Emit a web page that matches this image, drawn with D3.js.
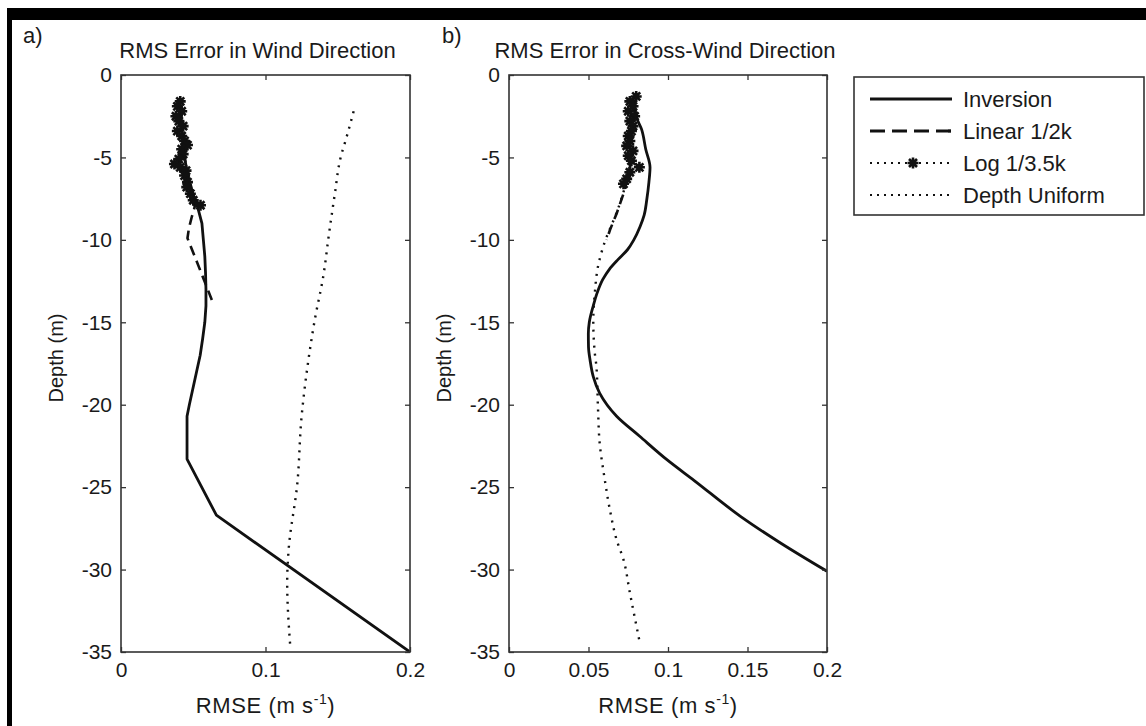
<!DOCTYPE html>
<html>
<head>
<meta charset="utf-8">
<script src="https://cdn.jsdelivr.net/npm/d3@7"></script>
<style>
  body { margin: 0; background: #fff; }
  svg { display: block; }
  text { font-family: "Liberation Sans", Arial, sans-serif; fill: #1a1a1a; }
  .axis .domain { display: none; }
  .axis line { stroke: #333; stroke-width: 1.3; }
  .axis text { font-size: 21px; fill: #1a1a1a; font-family: "Liberation Sans", Arial, sans-serif; }
</style>
</head>
<body>
<svg width="1146" height="726"></svg>
<script>
// ---- data (depth in m, RMSE in m/s) ----
var yTicks = [0, -5, -10, -15, -20, -25, -30, -35];
var xTicksA = [0, 0.1, 0.2];
var xTicksB = [0, 0.05, 0.1, 0.15, 0.2];

// panel a: wind direction
var invDepthA = [-1.8, -3, -4, -5, -6, -7, -8, -9, -10, -11, -12, -13, -14, -15, -16, -17, -18, -19, -20, -20.7, -23.3, -26.7, -35];
var invA      = [0.041, 0.042, 0.043, 0.044, 0.046, 0.049, 0.053, 0.056, 0.057, 0.058, 0.0585, 0.0588, 0.0588, 0.058, 0.0565, 0.0548, 0.0523, 0.0498, 0.0473, 0.0457, 0.0457, 0.066, 0.2];

var linDepthA = [-1.8, -3, -4, -5, -6, -7, -8, -8.6, -9.3, -9.9, -11, -12, -13, -13.9];
var linA      = [0.041, 0.042, 0.043, 0.044, 0.046, 0.049, 0.051, 0.049, 0.047, 0.046, 0.051, 0.0555, 0.060, 0.064];

var logDepthA = [-1.6, -1.9, -2.2, -2.5, -2.8, -3.1, -3.4, -3.7, -4.0, -4.25, -4.5, -4.8, -5.1, -5.4, -5.6, -5.8, -6.1, -6.5, -6.8, -7.2, -7.6, -7.9];
var logA      = [0.041, 0.039, 0.042, 0.038, 0.040, 0.043, 0.039, 0.042, 0.044, 0.046, 0.042, 0.043, 0.040, 0.037, 0.041, 0.045, 0.044, 0.046, 0.0455, 0.048, 0.050, 0.055];

var uniDepthA = [-2.2, -3.8, -5, -7.2, -9.6, -12.2, -14.9, -17.1, -20.7, -24.8, -28.8, -30.8, -34.5];
var uniA      = [0.161, 0.156, 0.152, 0.148, 0.144, 0.140, 0.134, 0.130, 0.125, 0.122, 0.116, 0.115, 0.117];

// panel b: cross-wind direction
var invDepthB = [-1.5, -2.5, -3.3, -4.5, -5.6, -6.5, -7.6, -8.5, -9.2, -10, -10.6, -11.2, -11.8, -12.4, -13.2, -14, -15, -15.7, -16.5, -17.3, -18.3, -19.3, -20.7, -21.9, -23.35, -24.6, -26.8, -28.4, -30.1];
var invB      = [0.079, 0.080, 0.0834, 0.086, 0.0887, 0.088, 0.0866, 0.085, 0.0824, 0.0785, 0.0745, 0.0685, 0.063, 0.059, 0.0555, 0.053, 0.0505, 0.0499, 0.050, 0.051, 0.053, 0.057, 0.0677, 0.082, 0.0995, 0.1165, 0.146, 0.171, 0.2];

var linDepthB = [-1.5, -2.5, -3.5, -4.5, -5.8, -7.2, -8.4, -9.4, -10];
var linB      = [0.079, 0.078, 0.077, 0.077, 0.076, 0.072, 0.0677, 0.0635, 0.0614];

var logDepthB = [-1.3, -1.6, -1.9, -2.2, -2.5, -2.8, -3.1, -3.4, -3.7, -4.0, -4.3, -4.6, -4.9, -5.2, -5.6, -5.9, -6.3, -6.6];
var logB      = [0.080, 0.076, 0.078, 0.075, 0.079, 0.076, 0.078, 0.077, 0.075, 0.076, 0.074, 0.078, 0.075, 0.077, 0.082, 0.076, 0.074, 0.072];

var uniDepthB = [-2.2, -4, -6, -8, -10.4, -11.6, -13.2, -14.9, -16.9, -17.7, -20.3, -22.3, -24.4, -26.4, -28.2, -29.4, -31.4, -34.5];
var uniB      = [0.079, 0.078, 0.075, 0.069, 0.0593, 0.056, 0.054, 0.053, 0.054, 0.055, 0.056, 0.057, 0.060, 0.0635, 0.0677, 0.072, 0.076, 0.0824];

var legendNames = ["Inversion", "Linear 1/2k", "Log 1/3.5k", "Depth Uniform"];

// ---- drawing ----
var svg = d3.select("svg");
svg.append("rect").attr("width", 1146).attr("height", 726).attr("fill", "#fff");
// black frame pieces
svg.append("rect").attr("x", 7).attr("y", 8).attr("width", 1139).attr("height", 12).attr("fill", "#000");
svg.append("rect").attr("x", 7).attr("y", 8).attr("width", 5).attr("height", 718).attr("fill", "#000");

function zip(d, v) { return d.map(function(dd, i) { return {d: dd, v: v[i]}; }); }

var starPath = "M-5.5,0L5.5,0M0,-5.5L0,5.5M-4,-4L4,4M-4,4L4,-4";

function panel(opt) {
  var x = d3.scaleLinear().domain([0, 0.2]).range([opt.left, opt.right]);
  var y = d3.scaleLinear().domain([-35, 0]).range([652, 75]);
  var g = svg.append("g");

  var clipId = "clip" + opt.tag;
  svg.append("clipPath").attr("id", clipId).append("rect")
    .attr("x", opt.left).attr("y", 75).attr("width", opt.right - opt.left).attr("height", 577);

  var plot = g.append("g").attr("clip-path", "url(#" + clipId + ")");

  var line = d3.line().x(function(p) { return x(p.v); }).y(function(p) { return y(p.d); });
  var smooth = d3.line().x(function(p) { return x(p.v); }).y(function(p) { return y(p.d); }).curve(d3.curveMonotoneY);

  plot.append("path").datum(zip(opt.uniD, opt.uni)).attr("d", smooth)
    .attr("fill", "none").attr("stroke", "#111").attr("stroke-width", 2.4).attr("stroke-dasharray", "2,6");
  plot.append("path").datum(zip(opt.linD, opt.lin)).attr("d", line)
    .attr("fill", "none").attr("stroke", "#111").attr("stroke-width", 2.6).attr("stroke-dasharray", "10,6");
  plot.append("path").datum(zip(opt.invD, opt.inv)).attr("d", opt.smoothInv ? smooth : line)
    .attr("fill", "none").attr("stroke", "#111").attr("stroke-width", 2.8).attr("stroke-linejoin", "round");
  plot.append("path").datum(zip(opt.logD, opt.log)).attr("d", line)
    .attr("fill", "none").attr("stroke", "#111").attr("stroke-width", 2.2).attr("stroke-dasharray", "2,4");
  plot.selectAll("path.star").data(zip(opt.logD, opt.log)).enter().append("path")
    .attr("class", "star")
    .attr("transform", function(p) { return "translate(" + x(p.v) + "," + y(p.d) + ")"; })
    .attr("d", starPath).attr("stroke", "#111").attr("stroke-width", 2.6).attr("fill", "none");

  // axes, ticks pointing inwards
  var fmt = function(d) { return String(d); };
  g.append("g").attr("class", "axis").attr("transform", "translate(" + opt.left + ",0)")
    .call(d3.axisLeft(y).tickValues(yTicks).tickFormat(fmt).tickSizeInner(-5).tickSizeOuter(0).tickPadding(9));
  g.append("g").attr("class", "axis").attr("transform", "translate(" + opt.right + ",0)")
    .call(d3.axisRight(y).tickValues(yTicks).tickFormat("").tickSizeInner(-5).tickSizeOuter(0));
  g.append("g").attr("class", "axis").attr("transform", "translate(0,652)")
    .call(d3.axisBottom(x).tickValues(opt.xTicks).tickFormat(fmt).tickSizeInner(-5).tickSizeOuter(0).tickPadding(10));
  g.append("g").attr("class", "axis").attr("transform", "translate(0,75)")
    .call(d3.axisTop(x).tickValues(opt.xTicks).tickFormat("").tickSizeInner(-5).tickSizeOuter(0));

  g.append("rect").attr("x", opt.left).attr("y", 75).attr("width", opt.right - opt.left).attr("height", 577)
    .attr("fill", "none").attr("stroke", "#333").attr("stroke-width", 1.6);

  var cx = (opt.left + opt.right) / 2;
  g.append("text").attr("x", cx + opt.titleDx).attr("y", 58).attr("text-anchor", "middle")
    .style("font-size", "22px").text(opt.title);
  g.append("text").attr("x", opt.tagX).attr("y", 43).style("font-size", "22px").text(opt.tag + ")");

  var xl = g.append("text").attr("x", cx).attr("y", 713).attr("text-anchor", "middle")
    .style("font-size", "22px").style("letter-spacing", "0.6px");
  xl.append("tspan").text("RMSE (m s");
  xl.append("tspan").attr("dy", -9).style("font-size", "14px").text("-1");
  xl.append("tspan").attr("dy", 9).text(")");

  g.append("text").attr("transform", "translate(" + opt.ylabX + ",358) rotate(-90)")
    .attr("text-anchor", "middle").style("font-size", "20px").text("Depth (m)");
}

panel({
  tag: "a", tagX: 23, left: 121, right: 410, ylabX: 63, xTicks: xTicksA, titleDx: -8,
  title: "RMS Error in Wind Direction",
  invD: invDepthA, inv: invA, linD: linDepthA, lin: linA,
  logD: logDepthA, log: logA, uniD: uniDepthA, uni: uniA, smoothInv: false
});
panel({
  tag: "b", tagX: 442, left: 509, right: 827, ylabX: 451, xTicks: xTicksB, titleDx: -3,
  title: "RMS Error in Cross-Wind Direction",
  invD: invDepthB, inv: invB, linD: linDepthB, lin: linB,
  logD: logDepthB, log: logB, uniD: uniDepthB, uni: uniB, smoothInv: true
});

// legend
var lg = svg.append("g");
lg.append("rect").attr("x", 854).attr("y", 77).attr("width", 290).attr("height", 138)
  .attr("fill", "#fff").attr("stroke", "#333").attr("stroke-width", 1.6);
var styles = [
  {w: 2.8, dash: null},
  {w: 2.8, dash: "15,7"},
  {w: 2.2, dash: "2,5"},
  {w: 2.2, dash: "2,5"}
];
var rows = lg.selectAll("g.row").data(legendNames).enter().append("g")
  .attr("class", "row")
  .attr("transform", function(d, i) { return "translate(0," + (99 + i * 32) + ")"; });
rows.append("line").attr("x1", 870).attr("x2", 952).attr("y1", 0).attr("y2", 0)
  .attr("stroke", "#111")
  .attr("stroke-width", function(d, i) { return styles[i].w; })
  .attr("stroke-dasharray", function(d, i) { return styles[i].dash; });
rows.filter(function(d, i) { return i === 1; }).append("rect")
  .attr("x", 948).attr("y", -1.4).attr("width", 3).attr("height", 2.8).attr("fill", "#111");
rows.filter(function(d, i) { return i === 2; }).append("path")
  .attr("transform", "translate(913,0)").attr("d", starPath)
  .attr("stroke", "#111").attr("stroke-width", 2.6).attr("fill", "none");
rows.append("text").attr("x", 963).attr("dy", "0.35em").style("font-size", "22px").text(function(d) { return d; });
</script>
</body>
</html>
